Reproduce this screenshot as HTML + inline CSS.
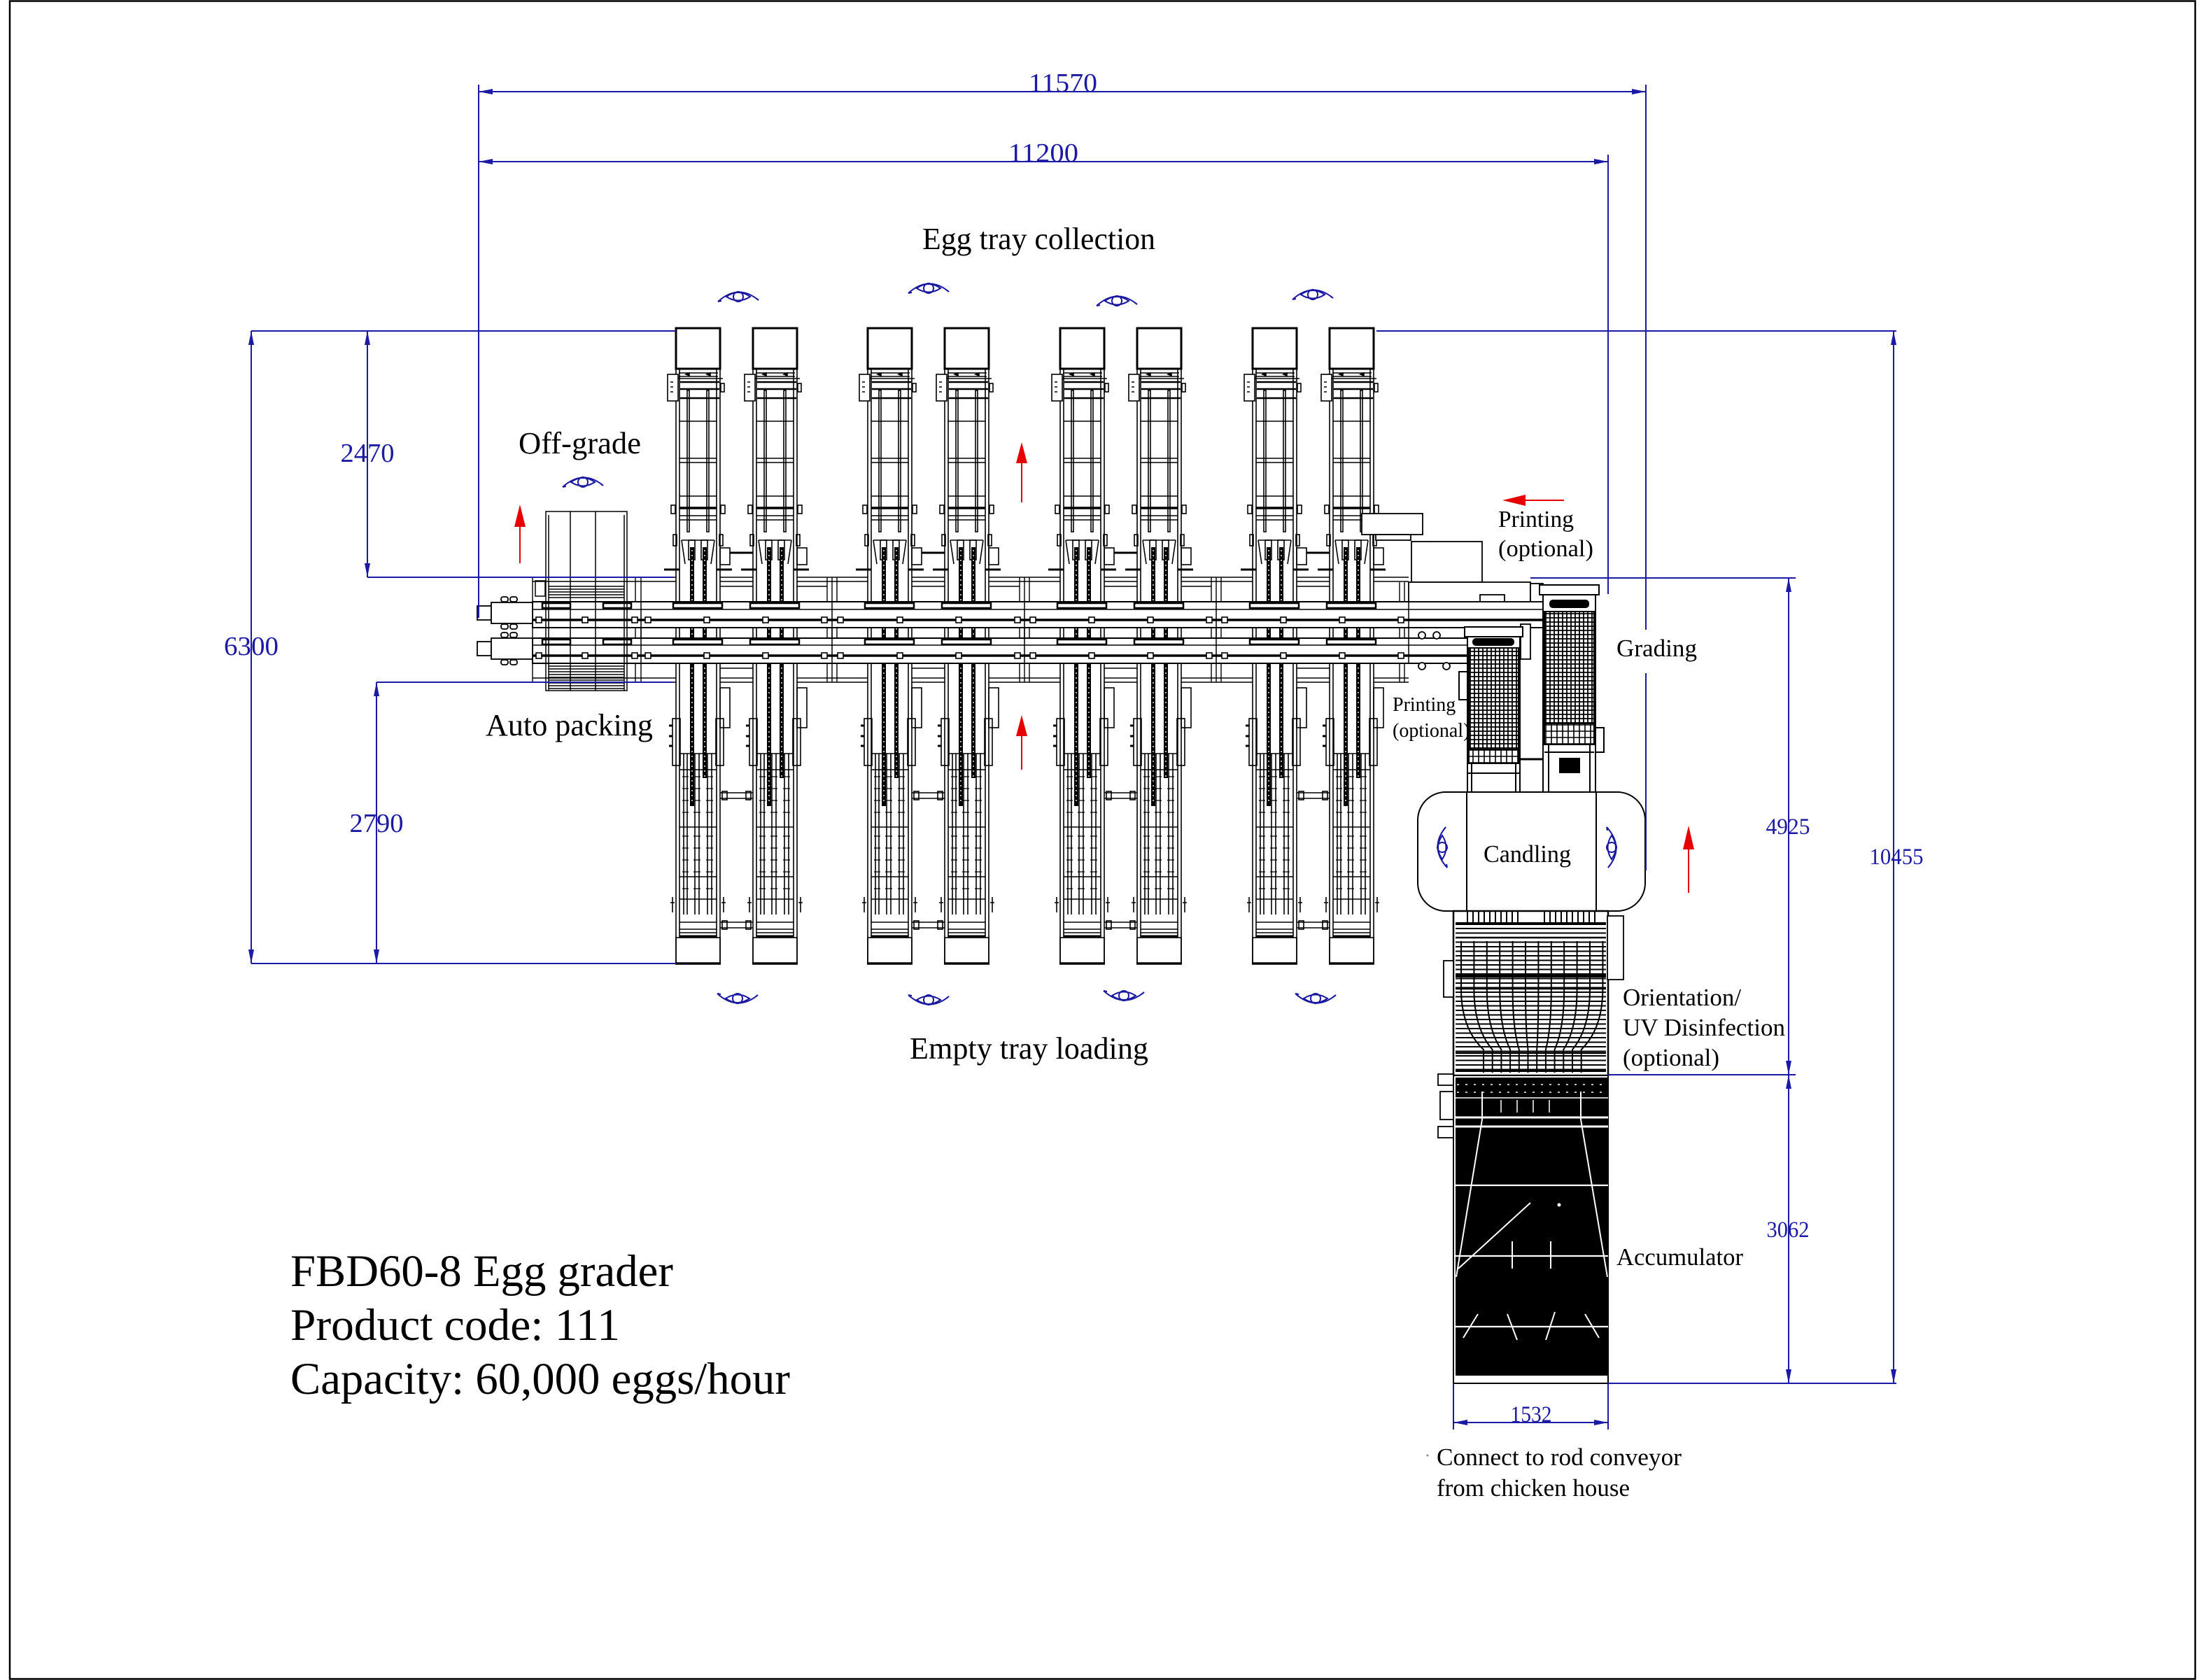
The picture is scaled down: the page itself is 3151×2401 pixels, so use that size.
<!DOCTYPE html>
<html><head><meta charset="utf-8"><style>
html,body{margin:0;padding:0;background:#fff;}
svg{display:block;}
text{font-family:"Liberation Serif","Times New Roman",serif;}
</style></head><body>
<svg xmlns="http://www.w3.org/2000/svg" xmlns:xlink="http://www.w3.org/1999/xlink" width="3151" height="2401" viewBox="0 0 3151 2401">
<defs>
<pattern id="mesh" width="6" height="6" patternUnits="userSpaceOnUse"><path d="M0 1H6M1 0V6" stroke="#000" stroke-width="1.8" fill="none"/></pattern>
<pattern id="mesh2" width="8" height="9" patternUnits="userSpaceOnUse"><path d="M0 1H8M1 0V9" stroke="#000" stroke-width="1.6" fill="none"/></pattern>
<pattern id="hl" width="10" height="6.5" patternUnits="userSpaceOnUse"><path d="M0 1H10" stroke="#000" stroke-width="2" fill="none"/></pattern>
<g id="eye" fill="none" stroke="#1818a0" stroke-width="2">
 <path d="M-29 10 Q0 -16 29 8"/>
 <path d="M-17 3 Q0 -9 17 3 Q0 14 -17 3Z"/>
 <circle cx="0" cy="3" r="7"/>
 <path d="M-29 10l5 -1M29 8l-4 -3"/>
</g>
<g id="col">
 <rect x="0" y="469" width="63" height="908" fill="#fff"/>
 <g fill="none" stroke="#000" stroke-width="1.6">
  <rect x="0" y="469" width="63" height="58" stroke-width="3"/>
  <path d="M0 527V1377M5 527V1340M58 527V1340M63 527V1377"/>
  <path d="M4 533H60M4 538H60M-2 541H67"/>
  <path d="M6 546H62M6 556H62M6 569H62" stroke-width="2.4"/>
  <path d="M14 535l5 -2v4zM44 535l5 -2v4z" fill="#000"/>
  <rect x="-12" y="535" width="15" height="38" fill="#fff"/>
  <path d="M-8 546h4M-8 553h4M-8 560h4"/>
  <rect x="64" y="548" width="5" height="12"/>
  <rect x="16" y="558" width="3" height="202"/>
  <rect x="44" y="558" width="3" height="202"/>
  <path d="M5 602H58M5 655H58M5 661H58M5 709H58M5 737H58M5 743H58"/>
  <path d="M5 726H58" stroke-width="3.5"/>
  <rect x="-7" y="722" width="6" height="12"/>
  <rect x="64" y="722" width="6" height="12"/>
  <rect x="-4" y="764" width="5" height="16"/>
  <rect x="62" y="764" width="5" height="16"/>
  <path d="M8 772L13 806M55 772L50 806M8 772H55"/>
  <rect x="18" y="772" width="9" height="28"/>
  <rect x="36" y="772" width="9" height="28"/>
  <path d="M-17 814H5M58 814H80" stroke-width="3"/>
  <rect x="63" y="783" width="14" height="24"/>
  <rect x="63" y="983" width="14" height="57"/>
  <rect x="-5" y="1027" width="11" height="67"/>
  <rect x="57" y="1027" width="11" height="67"/>
  <path d="M-10 1037h5M-10 1052h5M-10 1066h5" stroke-width="3"/>
  <path d="M11 1077V1307M16 1077V1307M27 1077V1307M33 1077V1307M45 1077V1307M51 1077V1307"/>
  <path d="M5 1077H58M5 1100H58M5 1182H58M5 1253H58M5 1285H58"/>
  <path stroke-width="1.3" d="M9 1110H18M25 1110H35M43 1110H53M9 1127H18M25 1127H35M43 1127H53M9 1144H18M25 1144H35M43 1144H53M9 1161H18M25 1161H35M43 1161H53M9 1195H18M25 1195H35M43 1195H53M9 1212H18M25 1212H35M43 1212H53M9 1229H18M25 1229H35M43 1229H53M9 1246H18M25 1246H35M43 1246H53M9 1270H18M25 1270H35M43 1270H53"/>
  <path d="M5 1318H58M5 1328H58M5 1333H58"/>
  <path d="M5 1338H58" stroke-width="3"/>
  <rect x="0" y="1340" width="63" height="37"/>
  <path d="M-1 1377H64" stroke-width="3.5"/>
  <path d="M-5 1282v22M-8 1290h6M68 1282v22M65 1290h6"/>
 </g>
 <rect x="20" y="782" width="6" height="370" fill="#000"/>
 <rect x="38" y="782" width="6" height="330" fill="#000"/>
 <path d="M23 786V1150M41 786V1110" stroke="#fff" stroke-width="1.4" stroke-dasharray="2 5"/>
</g>
<g id="pair">
 <use href="#col" xlink:href="#col"/>
 <use href="#col" xlink:href="#col" x="110"/>
 <g fill="none" stroke="#000" stroke-width="1.6">
  <path d="M77 790H110" stroke-width="3"/>
  <path d="M63 1133H110M63 1141H110M63 1318H110M63 1326H110"/>
  <rect x="66" y="1131" width="7" height="12"/><rect x="100" y="1131" width="7" height="12"/>
  <rect x="66" y="1316" width="7" height="12"/><rect x="100" y="1316" width="7" height="12"/>
 </g>
</g>
</defs>

<rect x="0" y="0" width="3151" height="2401" fill="#fff"/>
<rect x="14" y="1.5" width="3123" height="2398" fill="none" stroke="#000" stroke-width="2.5"/>

<!-- background frame -->
<g fill="none" stroke="#000" stroke-width="1.4">
 <path d="M761 825H2013M761 831H2013M761 969H2013M761 975H2013M761 825V975"/>
 <path d="M908 825V975M916 825V975M1182 825V975M1189 825V975M1196 825V975M1457 825V975M1464 825V975M1471 825V975M1731 825V975M1738 825V975M1745 825V975M2000 832V975M2007 832V975"/>
 <path d="M1029 838H1076M1139 838H1182M1303 838H1351M1414 838H1457M1578 838H1626M1689 838H1731M1853 838H1901"/>
 <path d="M1029 955H1076M1303 955H1351M1578 955H1626M1853 955H1901"/>
</g>

<!-- columns -->
<use href="#pair" xlink:href="#pair" x="966"/>
<use href="#pair" xlink:href="#pair" x="1240"/>
<use href="#pair" xlink:href="#pair" x="1515"/>
<use href="#pair" xlink:href="#pair" x="1790"/>

<!-- conveyors -->
<g stroke="#000" fill="#fff">
 <rect x="761" y="860" width="1444" height="37" stroke-width="2"/>
 <rect x="761" y="912" width="1336" height="36" stroke-width="2"/>
</g>
<path d="M761 871H2205M761 922H2097" stroke="#000" stroke-width="1.4" fill="none"/>
<path d="M761 886H2205M761 937H2097" stroke="#000" stroke-width="3.5" fill="none"/>
<path d="M916 860V948M1189 860V948M1464 860V948M1738 860V948M2013 860V948" stroke="#000" stroke-width="1.5" fill="none"/>
<g fill="none" stroke="#000" stroke-width="2.5">
 <rect x="775" y="862" width="40" height="7"/><rect x="862" y="862" width="40" height="7"/>
 <rect x="775" y="914" width="40" height="7"/><rect x="862" y="914" width="40" height="7"/>
 <rect x="962" y="862" width="70" height="7"/><rect x="1072" y="862" width="70" height="7"/>
 <rect x="1236" y="862" width="70" height="7"/><rect x="1346" y="862" width="70" height="7"/>
 <rect x="1511" y="862" width="70" height="7"/><rect x="1621" y="862" width="70" height="7"/>
 <rect x="1786" y="862" width="70" height="7"/><rect x="1896" y="862" width="70" height="7"/>
 <rect x="962" y="914" width="70" height="7"/><rect x="1072" y="914" width="70" height="7"/>
 <rect x="1236" y="914" width="70" height="7"/><rect x="1346" y="914" width="70" height="7"/>
 <rect x="1511" y="914" width="70" height="7"/><rect x="1621" y="914" width="70" height="7"/>
 <rect x="1786" y="914" width="70" height="7"/><rect x="1896" y="914" width="70" height="7"/>
</g>
<g fill="#fff" stroke="#000" stroke-width="1.6">
 <rect x="766" y="882" width="8" height="8"/><rect x="832" y="882" width="8" height="8"/><rect x="903" y="882" width="8" height="8"/><rect x="922" y="882" width="8" height="8"/><rect x="1006" y="882" width="8" height="8"/><rect x="1090" y="882" width="8" height="8"/><rect x="1174" y="882" width="8" height="8"/><rect x="1197" y="882" width="8" height="8"/><rect x="1282" y="882" width="8" height="8"/><rect x="1366" y="882" width="8" height="8"/><rect x="1450" y="882" width="8" height="8"/><rect x="1472" y="882" width="8" height="8"/><rect x="1556" y="882" width="8" height="8"/><rect x="1640" y="882" width="8" height="8"/><rect x="1724" y="882" width="8" height="8"/><rect x="1746" y="882" width="8" height="8"/><rect x="1830" y="882" width="8" height="8"/><rect x="1914" y="882" width="8" height="8"/><rect x="1998" y="882" width="8" height="8"/>
 <rect x="766" y="933" width="8" height="8"/><rect x="832" y="933" width="8" height="8"/><rect x="903" y="933" width="8" height="8"/><rect x="922" y="933" width="8" height="8"/><rect x="1006" y="933" width="8" height="8"/><rect x="1090" y="933" width="8" height="8"/><rect x="1174" y="933" width="8" height="8"/><rect x="1197" y="933" width="8" height="8"/><rect x="1282" y="933" width="8" height="8"/><rect x="1366" y="933" width="8" height="8"/><rect x="1450" y="933" width="8" height="8"/><rect x="1472" y="933" width="8" height="8"/><rect x="1556" y="933" width="8" height="8"/><rect x="1640" y="933" width="8" height="8"/><rect x="1724" y="933" width="8" height="8"/><rect x="1746" y="933" width="8" height="8"/><rect x="1830" y="933" width="8" height="8"/><rect x="1914" y="933" width="8" height="8"/><rect x="1998" y="933" width="8" height="8"/>
</g>

<!-- motors -->
<g fill="#fff" stroke="#000" stroke-width="1.8">
 <rect x="682" y="866" width="20" height="20"/>
 <rect x="702" y="861" width="59" height="30"/>
 <rect x="716" y="853" width="10" height="7" rx="3"/><rect x="729" y="853" width="10" height="7" rx="3"/>
 <rect x="716" y="892" width="10" height="7" rx="3"/><rect x="729" y="892" width="10" height="7" rx="3"/>
 <rect x="682" y="917" width="20" height="20"/>
 <rect x="702" y="912" width="59" height="30"/>
 <rect x="716" y="904" width="10" height="7" rx="3"/><rect x="729" y="904" width="10" height="7" rx="3"/>
 <rect x="716" y="943" width="10" height="7" rx="3"/><rect x="729" y="943" width="10" height="7" rx="3"/>
</g>

<!-- off-grade / auto packing box -->
<g fill="none" stroke="#000" stroke-width="1.5">
 <rect x="780" y="731" width="116" height="256"/>
 <path d="M815 731V987M851 731V987M784 736V987M892 736V987"/>
 <path d="M784 838H892M784 842H892M784 846H892M784 850H892M784 854H892"/>
 <path d="M784 952H892M784 956H892M784 960H892M784 964H892M784 968H892M784 972H892M784 976H892M784 980H892M784 984H892"/>
 <rect x="765" y="830" width="14" height="22"/>
</g>

<!-- printer / grading area -->
<g fill="#fff" stroke="#000" stroke-width="1.8">
 <rect x="1946" y="734" width="87" height="30"/>
 <rect x="1966" y="764" width="50" height="8"/>
 <rect x="2017" y="774" width="101" height="58"/>
 <rect x="2013" y="832" width="174" height="28"/>
 <rect x="2115" y="850" width="35" height="10"/>
 <rect x="2187" y="834" width="18" height="26"/>
 <rect x="2173" y="892" width="14" height="50"/>
</g>
<g fill="#fff" stroke="#000" stroke-width="1.8">
 <circle cx="2032" cy="908" r="5"/><circle cx="2053" cy="908" r="5"/><circle cx="2032" cy="952" r="5"/><circle cx="2067" cy="952" r="5"/>
</g>

<!-- small printing label (partly covered by grader) -->
<text x="1990" y="1016" font-size="28" fill="#000">Printing</text>
<text x="1990" y="1053" font-size="28" fill="#000">(optional)</text>

<!-- right grader -->
<g stroke="#000" stroke-width="2">
 <rect x="2205" y="844" width="75" height="288" fill="#fff"/>
 <rect x="2200" y="836" width="85" height="14" fill="#fff"/>
 <rect x="2215" y="858" width="55" height="10" rx="4" fill="#000"/>
 <rect x="2207" y="874" width="71" height="160" fill="url(#mesh)"/>
 <rect x="2207" y="1034" width="71" height="30" fill="url(#mesh2)"/>
 <path d="M2213 1064V1132M2272 1064V1132M2207 1075H2278" fill="none"/>
 <rect x="2229" y="1084" width="28" height="20" fill="#000"/>
 <rect x="2280" y="1040" width="12" height="35" fill="#fff"/>
</g>
<!-- left grader -->
<g stroke="#000" stroke-width="2">
 <rect x="2097" y="905" width="75" height="227" fill="#fff"/>
 <rect x="2093" y="896" width="83" height="14" fill="#fff"/>
 <rect x="2105" y="913" width="58" height="9" rx="4" fill="#000"/>
 <rect x="2099" y="926" width="71" height="145" fill="url(#mesh)"/>
 <rect x="2099" y="1071" width="71" height="20" fill="url(#mesh2)"/>
 <path d="M2103 1091V1132M2166 1091V1132M2097 1105H2172" fill="none"/>
 <rect x="2085" y="960" width="12" height="40" fill="#fff"/>
</g>
<path d="M2172 1085H2205" stroke="#000" stroke-width="3"/>

<!-- candling -->
<g fill="#fff" stroke="#000" stroke-width="2">
 <rect x="2026" y="1132" width="325" height="170" rx="40"/>
</g>
<path d="M2096 1132V1302M2281 1132V1302" stroke="#000" stroke-width="2" fill="none"/>

<!-- orientation -->
<g stroke="#000">
 <rect x="2077" y="1302" width="221" height="235" fill="#fff" stroke-width="2.5"/>
 <rect x="2080" y="1318" width="215" height="215" fill="url(#hl)" stroke="none"/>
 <path d="M2097 1302V1320M2105 1302V1320M2113 1302V1320M2121 1302V1320M2129 1302V1320M2137 1302V1320M2145 1302V1320M2153 1302V1320M2161 1302V1320M2169 1302V1320M2207 1302V1320M2215 1302V1320M2223 1302V1320M2231 1302V1320M2239 1302V1320M2247 1302V1320M2255 1302V1320M2263 1302V1320M2271 1302V1320M2279 1302V1320" stroke-width="2" fill="none"/>
 <path d="M2080 1320H2295M2080 1395H2295M2080 1530H2295" stroke-width="4" fill="none"/>
 <path d="M2080 1340H2295M2080 1413H2295M2080 1505H2295" stroke-width="2.5" fill="none"/>
 <path fill="none" stroke-width="2" d="M2088 1345L2088 1413Q2088 1470 2120 1500L2120 1533M2106.4 1345L2106.4 1413Q2106.4 1470 2132.7 1500L2132.7 1533M2124.8 1345L2124.8 1413Q2124.8 1470 2145.4 1500L2145.4 1533M2143.2 1345L2143.2 1413Q2143.2 1470 2158.1 1500L2158.1 1533M2161.6 1345L2161.6 1413Q2161.6 1470 2170.8 1500L2170.8 1533M2180 1345L2180 1413Q2180 1470 2183.5 1500L2183.5 1533M2198.4 1345L2198.4 1413Q2198.4 1470 2196.2 1500L2196.2 1533M2216.8 1345L2216.8 1413Q2216.8 1470 2208.9 1500L2208.9 1533M2235.2 1345L2235.2 1413Q2235.2 1470 2221.6 1500L2221.6 1533M2253.6 1345L2253.6 1413Q2253.6 1470 2234.3 1500L2234.3 1533M2272 1345L2272 1413Q2272 1470 2247 1500L2247 1533M2290.4 1345L2290.4 1413Q2290.4 1470 2259.7 1500L2259.7 1533"/>
 <rect x="2297" y="1309" width="23" height="91" fill="#fff" stroke-width="1.8"/>
 <rect x="2063" y="1373" width="14" height="52" fill="#fff" stroke-width="1.8"/>
</g>

<!-- accumulator -->
<g stroke="#000">
 <rect x="2077" y="1537" width="221" height="440" fill="#fff" stroke-width="2"/>
 <rect x="2080" y="1540" width="217" height="426" fill="#000" stroke="none"/>
 <rect x="2055" y="1535" width="22" height="16" fill="#fff" stroke-width="1.8"/>
 <rect x="2058" y="1560" width="19" height="40" fill="#fff" stroke-width="1.8"/>
 <rect x="2055" y="1610" width="22" height="16" fill="#fff" stroke-width="1.8"/>
</g>
<g stroke="#fff" fill="none">
 <path d="M2082 1550H2296M2082 1561H2296" stroke-width="1.5" stroke-dasharray="3 9"/>
 <path d="M2078 1569H2298" stroke-width="1.5"/>
 <path d="M2078 1597H2298M2078 1610H2298" stroke-width="3"/>
 <path d="M2078 1694H2298M2078 1795H2298M2078 1896H2298" stroke-width="2.2"/>
 <path d="M2118 1560V1600M2259 1560V1600M2118 1600L2081 1825M2259 1600L2297 1825" stroke-width="2"/>
 <path d="M2187 1719L2084 1813M2161 1774V1813M2216 1774V1813" stroke-width="2"/>
 <path d="M2112 1878L2091 1912M2154 1878L2168 1915M2222 1875L2209 1915M2265 1878L2285 1912" stroke-width="2"/>
 <path d="M2145 1572V1590M2168 1572V1590M2191 1572V1590M2214 1572V1590" stroke-width="1.5"/>
</g>
<circle cx="2228" cy="1722" r="2.5" fill="#fff"/>

<!-- dimension lines (blue) -->
<g stroke="#1a1aa5" stroke-width="2" fill="none">
 <path d="M684 131H2352M684 231H2298"/>
 <path d="M684 121V883M2352 121V900M2352 962V1244M2298 221V849"/>
 <path d="M359 473H966M525 825H962M538 975H962M359 1377H966"/>
 <path d="M359 473V1377M525 473V825M538 975V1377"/>
 <path d="M1967 473H2710M2187 826H2566M2298 1536H2566M2298 1977H2710"/>
 <path d="M2706 473V1977M2556 826V1536M2556 1536V1977"/>
 <path d="M2077 1977V2043M2298 1977V2043M2077 2033H2298"/>
</g>
<g fill="#1a1aa5">
 <path d="M684 131l20 -4v8zM2352 131l-20 -4v8zM684 231l20 -4v8zM2298 231l-20 -4v8z"/>
 <path d="M359 473l-4 20h8zM359 1377l-4 -20h8zM525 473l-4 20h8zM525 825l-4 -20h8zM538 975l-4 20h8zM538 1377l-4 -20h8z"/>
 <path d="M2706 473l-4 20h8zM2706 1977l-4 -20h8zM2556 826l-4 20h8zM2556 1536l-4 -20h8zM2556 1536l-4 20h8zM2556 1977l-4 -20h8z"/>
 <path d="M2077 2033l20 -4v8zM2298 2033l-20 -4v8z"/>
</g>
<g fill="#1a1aa5">
 <text x="1519" y="131" font-size="38" text-anchor="middle" textLength="98" lengthAdjust="spacingAndGlyphs">11570</text>
 <text x="1491" y="231" font-size="38" text-anchor="middle" textLength="100" lengthAdjust="spacingAndGlyphs">11200</text>
 <text x="525" y="660" font-size="38" text-anchor="middle" textLength="77" lengthAdjust="spacingAndGlyphs">2470</text>
 <text x="359" y="936" font-size="38" text-anchor="middle" textLength="78" lengthAdjust="spacingAndGlyphs">6300</text>
 <text x="538" y="1189" font-size="38" text-anchor="middle" textLength="77" lengthAdjust="spacingAndGlyphs">2790</text>
 <text x="2555" y="1192" font-size="33" text-anchor="middle" textLength="63" lengthAdjust="spacingAndGlyphs">4925</text>
 <text x="2710" y="1235" font-size="33" text-anchor="middle" textLength="77" lengthAdjust="spacingAndGlyphs">10455</text>
 <text x="2555" y="1768" font-size="33" text-anchor="middle" textLength="61" lengthAdjust="spacingAndGlyphs">3062</text>
 <text x="2188" y="2032" font-size="33" text-anchor="middle" textLength="59" lengthAdjust="spacingAndGlyphs">1532</text>
</g>

<!-- eyes -->
<use href="#eye" xlink:href="#eye" transform="translate(1055 421)"/>
<use href="#eye" xlink:href="#eye" transform="translate(1327 409)"/>
<use href="#eye" xlink:href="#eye" transform="translate(1596 427)"/>
<use href="#eye" xlink:href="#eye" transform="translate(1876 418)"/>
<use href="#eye" xlink:href="#eye" transform="translate(833 686)"/>
<use href="#eye" xlink:href="#eye" transform="translate(1054 1430) scale(1 -1)"/>
<use href="#eye" xlink:href="#eye" transform="translate(1327 1432) scale(1 -1)"/>
<use href="#eye" xlink:href="#eye" transform="translate(1606 1426) scale(1 -1)"/>
<use href="#eye" xlink:href="#eye" transform="translate(1880 1430) scale(1 -1)"/>
<use href="#eye" xlink:href="#eye" transform="translate(2058 1211) rotate(-90)"/>
<use href="#eye" xlink:href="#eye" transform="translate(2306 1211) rotate(90)"/>

<!-- red arrows -->
<g fill="#e60000" stroke="#e60000" stroke-width="2">
 <path d="M743 750V805" fill="none"/><path d="M743 721l-8 32h16z" stroke="none"/>
 <path d="M1460 660V718" fill="none"/><path d="M1460 632l-8 30h16z" stroke="none"/>
 <path d="M1460 1050V1100" fill="none"/><path d="M1460 1022l-8 30h16z" stroke="none"/>
 <path d="M2413 1212V1276" fill="none"/><path d="M2413 1180l-8 34h16z" stroke="none"/>
 <path d="M2178 715H2235" fill="none"/><path d="M2147 715l33 -8v16z" stroke="none"/>
</g>

<!-- labels -->
<g fill="#000">
 <text x="1318" y="356" font-size="44" textLength="333" lengthAdjust="spacingAndGlyphs">Egg tray collection</text>
 <text x="1300" y="1513" font-size="44" textLength="341" lengthAdjust="spacingAndGlyphs">Empty tray loading</text>
 <text x="741" y="648" font-size="44" textLength="175" lengthAdjust="spacingAndGlyphs">Off-grade</text>
 <text x="694" y="1051" font-size="44" textLength="239" lengthAdjust="spacingAndGlyphs">Auto packing</text>
 <text x="2141" y="753" font-size="34" textLength="108" lengthAdjust="spacingAndGlyphs">Printing</text>
 <text x="2141" y="795" font-size="34" textLength="136" lengthAdjust="spacingAndGlyphs">(optional)</text>
 <text x="2310" y="938" font-size="35" textLength="115" lengthAdjust="spacingAndGlyphs">Grading</text>
 <text x="2120" y="1232" font-size="35" textLength="125" lengthAdjust="spacingAndGlyphs">Candling</text>
 <text x="2319" y="1437" font-size="35">Orientation/</text>
 <text x="2319" y="1480" font-size="35" textLength="232" lengthAdjust="spacingAndGlyphs">UV Disinfection</text>
 <text x="2319" y="1523" font-size="35">(optional)</text>
 <text x="2310" y="1808" font-size="35" textLength="181" lengthAdjust="spacingAndGlyphs">Accumulator</text>
 <text x="2053" y="2094" font-size="35" textLength="350" lengthAdjust="spacingAndGlyphs">Connect to rod conveyor</text>
 <text x="2053" y="2138" font-size="35">from chicken house</text>
 <text x="415" y="1838" font-size="65" textLength="547" lengthAdjust="spacingAndGlyphs">FBD60-8 Egg grader</text>
 <text x="415" y="1915" font-size="65" textLength="471" lengthAdjust="spacingAndGlyphs">Product code: 111</text>
 <text x="415" y="1992" font-size="65" textLength="714" lengthAdjust="spacingAndGlyphs">Capacity: 60,000 eggs/hour</text>
</g>
<circle cx="2040" cy="2080" r="1.5" fill="#888"/>
</svg>
</body></html>
